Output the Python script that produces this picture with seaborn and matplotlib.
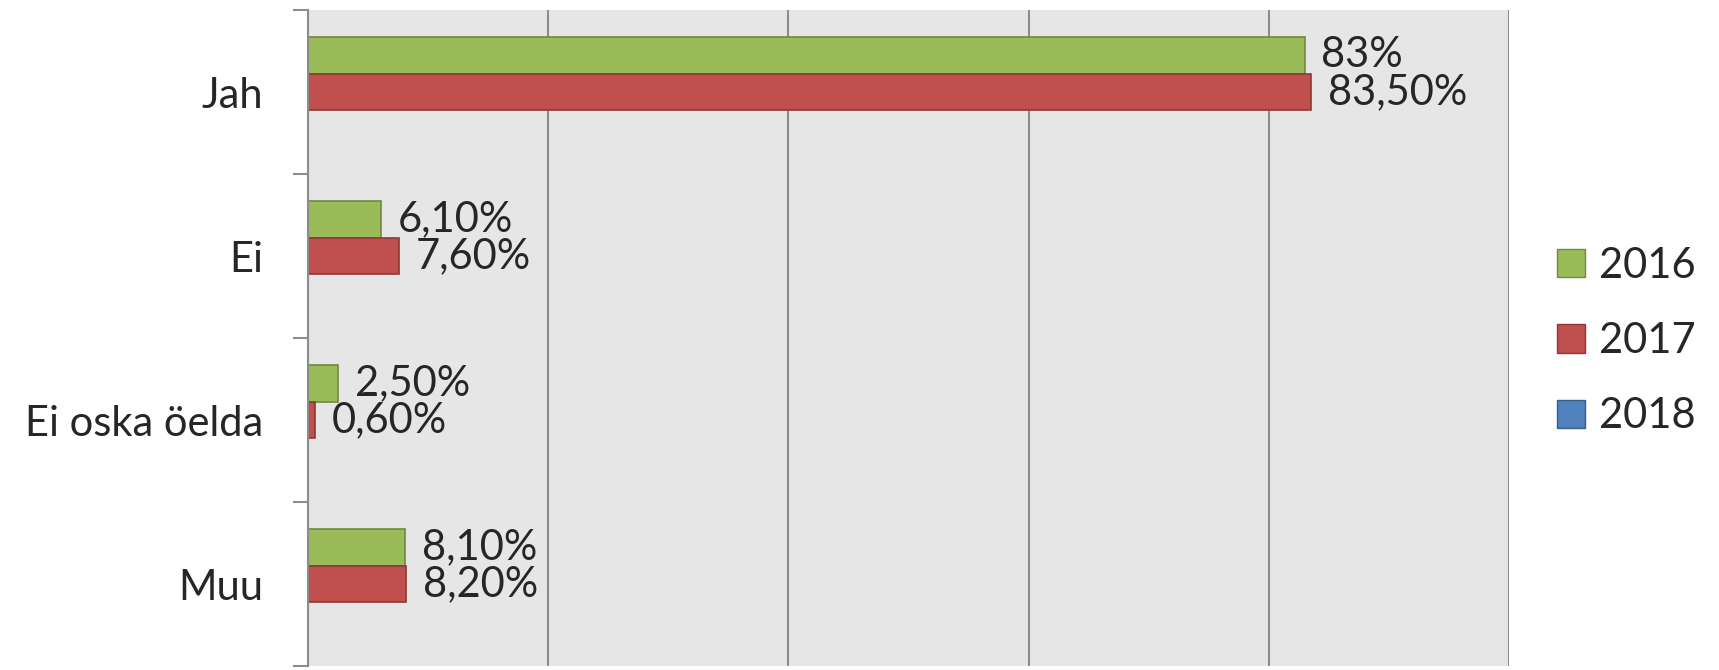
import pandas as pd
import matplotlib.pyplot as plt
import seaborn as sns
from matplotlib.ticker import FixedLocator

# Data
categories = ['Jah', 'Ei', 'Ei oska öelda', 'Muu']
years = ['2016', '2017', '2018']
values_2016 = [83.0, 6.1, 2.5, 8.1]
values_2017 = [83.5, 7.6, 0.6, 8.2]
values_2018 = [0.0, 0.0, 0.0, 0.0]
labels_2016 = ['83%', '6,10%', '2,50%', '8,10%']
labels_2017 = ['83,50%', '7,60%', '0,60%', '8,20%']

colors = ['#9BBB59', '#C0504D', '#4F81BD']
edges = ['#71893F', '#8C3836', '#385D8A']

data = pd.DataFrame({
    'Kategooria': categories * 3,
    'Aasta': [y for y in years for _ in categories],
    'Väärtus': values_2016 + values_2017 + values_2018,
})

sns.set_style('white')
plt.rcParams['font.family'] = ['Lato', 'DejaVu Sans']
FS = 30

fig = plt.figure(figsize=(17.19, 6.70), dpi=100)
ax = fig.add_axes([308 / 1719, 4 / 670, (1509 - 308) / 1719, (660 - 4) / 670])

sns.barplot(data=data, x='Väärtus', y='Kategooria', hue='Aasta',
            order=categories, hue_order=years, palette=colors, saturation=1,
            orient='h', width=0.67, ax=ax, legend=True)

for cont, ec in zip(ax.containers, edges):
    for bar in cont:
        bar.set_edgecolor(ec)
        bar.set_linewidth(1.2)

ax.bar_label(ax.containers[0], labels=labels_2016, padding=12, fontsize=FS)
ax.bar_label(ax.containers[1], labels=labels_2017, padding=12, fontsize=FS)

ax.set_facecolor('#E6E6E6')
ax.set_xlim(0, 100)
ax.set_ylim(3.5, -0.5)
ax.set_xticks([0, 20, 40, 60, 80, 100])
ax.set_xticklabels([])
ax.tick_params(axis='x', length=0)
ax.grid(axis='x', color='#8C8C8C', linewidth=1.5)
ax.set_axisbelow(True)

ax.tick_params(axis='y', which='major', length=0, labelsize=FS, pad=32)
ax.yaxis.set_minor_locator(FixedLocator([-0.5, 0.5, 1.5, 2.5, 3.5]))
ax.tick_params(axis='y', which='minor', length=11, width=1.5, color='#8C8C8C', left=True)
ax.set_xlabel('')
ax.set_ylabel('')

for side in ['top', 'bottom', 'right']:
    ax.spines[side].set_visible(False)
ax.spines['left'].set_color('#8C8C8C')
ax.spines['left'].set_linewidth(1.5)

handles, lbls = ax.get_legend_handles_labels()
for h, ec in zip(handles, edges):
    h.set_edgecolor(ec)
ax.legend(handles, lbls, loc='center left', bbox_to_anchor=(1536 / 1719, 1 - 341 / 670),
          bbox_transform=fig.transFigure, frameon=False, fontsize=FS,
          handlelength=0.67, handleheight=0.67, handletextpad=0.35,
          labelspacing=0.9, borderpad=0)

fig.savefig('out.png', dpi=100)
